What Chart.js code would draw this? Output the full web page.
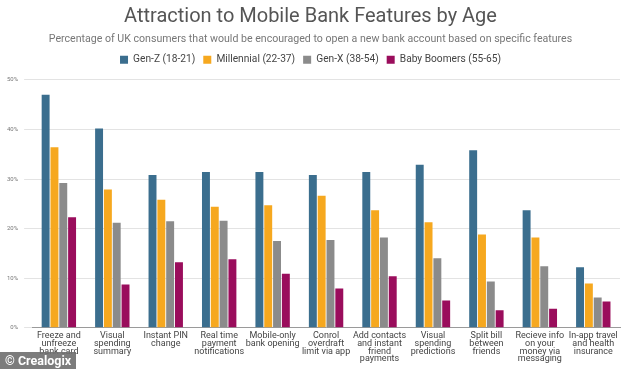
<!DOCTYPE html>
<html>
<head>
<meta charset="utf-8">
<script src="https://cdn.jsdelivr.net/npm/chart.js@4.4.1/dist/chart.umd.min.js"></script>
<style>
  html, body { margin: 0; padding: 0; background: #fff; }
  #wrap { position: relative; width: 634px; height: 369px; }
  #credit {
    position: absolute; left: 0; top: 352px; width: 76px; height: 17px;
    background: rgba(110,110,110,0.9); color: #fff;
    font: bold 12.5px "Roboto", sans-serif; line-height: 17px; padding-left: 5px; box-sizing: border-box;
    white-space: nowrap;
  }
</style>
</head>
<body>
<div id="wrap">
  <canvas id="myChart" width="634" height="369"></canvas>
  <div id="credit">© Crealogix</div>
</div>
<script>
var features = [
  ["Freeze and", "unfreeze", "bank card"],
  ["Visual", "spending", "summary"],
  ["Instant PIN", "change"],
  ["Real time", "payment", "notifications"],
  ["Mobile-only", "bank opening"],
  ["Conrol", "overdraft", "limit via app"],
  ["Add contacts", "and instant", "friend", "payments"],
  ["Visual", "spending", "predictions"],
  ["Split bill", "between", "friends"],
  ["Recieve info", "on your", "money via", "messaging"],
  ["In-app travel", "and health", "insurance"]
];

var genZ      = [47.0, 40.2, 30.8, 31.4, 31.4, 30.8, 31.4, 32.9, 35.8, 23.7, 12.2];
var millennial = [36.4, 27.9, 25.8, 24.4, 24.7, 26.6, 23.7, 21.3, 18.8, 18.2, 8.9];
var genX      = [29.2, 21.2, 21.5, 21.6, 17.5, 17.7, 18.2, 14.0, 9.3, 12.4, 6.1];
var boomers   = [22.3, 8.7, 13.2, 13.8, 10.9, 7.9, 10.4, 5.5, 3.5, 3.8, 5.3];

var ctx = document.getElementById('myChart').getContext('2d');

var data = {
    labels: features,
    datasets: [
        { label: 'Gen-Z (18-21)', data: genZ, backgroundColor: '#3b6e8e' },
        { label: 'Millennial (22-37)', data: millennial, backgroundColor: '#f6a81f' },
        { label: 'Gen-X (38-54)', data: genX, backgroundColor: '#8b8b8b' },
        { label: 'Baby Boomers (55-65)', data: boomers, backgroundColor: '#9a0d5c' }
    ]
};

// a bit of extra space under the legend
var legendGap = {
    id: 'legendGap',
    beforeInit: function (chart) {
        var fit = chart.legend.fit;
        chart.legend.fit = function () {
            fit.bind(chart.legend)();
            this.height += 5;
        };
    }
};

var myChart = new Chart(ctx, {
    type: 'bar',
    data: data,
    plugins: [legendGap],
    options: {
        responsive: false,
        animation: false,
        layout: { padding: { left: 1, right: 14, top: 5, bottom: 2 } },
        datasets: { bar: { categoryPercentage: 0.66, barPercentage: 0.9 } },
        scales: {
            x: {
                grid: { display: false, drawTicks: false },
                border: { color: '#9a9a9a', width: 1 },
                ticks: {
                    color: '#444',
                    maxRotation: 0,
                    autoSkip: false,
                    padding: 4,
                    font: { family: 'Roboto', size: 9, lineHeight: 0.87 }
                }
            },
            y: {
                min: 0,
                max: 50,
                grid: { color: '#e3e3e3' },
                border: { display: false },
                ticks: {
                    stepSize: 10,
                    color: '#777',
                    padding: 6,
                    font: { family: 'Roboto', size: 6 },
                    callback: function (v) { return v + '%'; }
                }
            }
        },
        plugins: {
            title: {
                display: true,
                text: 'Attraction to Mobile Bank Features by Age',
                color: '#555',
                font: { family: 'Roboto', size: 20, weight: 'normal' },
                padding: { top: 0, bottom: 4 }
            },
            subtitle: {
                display: true,
                text: 'Percentage of UK consumers that would be encouraged to open a new bank account based on specific features',
                color: '#777',
                font: { family: 'Roboto', size: 10.6 },
                padding: { bottom: 1 }
            },
            legend: {
                display: true,
                position: 'top',
                labels: {
                    color: '#444',
                    boxWidth: 8,
                    boxHeight: 8,
                    padding: 8,
                    font: { family: 'Roboto', size: 10.2 }
                }
            },
            tooltip: { enabled: false }
        }
    }
});
</script>
</body>
</html>
